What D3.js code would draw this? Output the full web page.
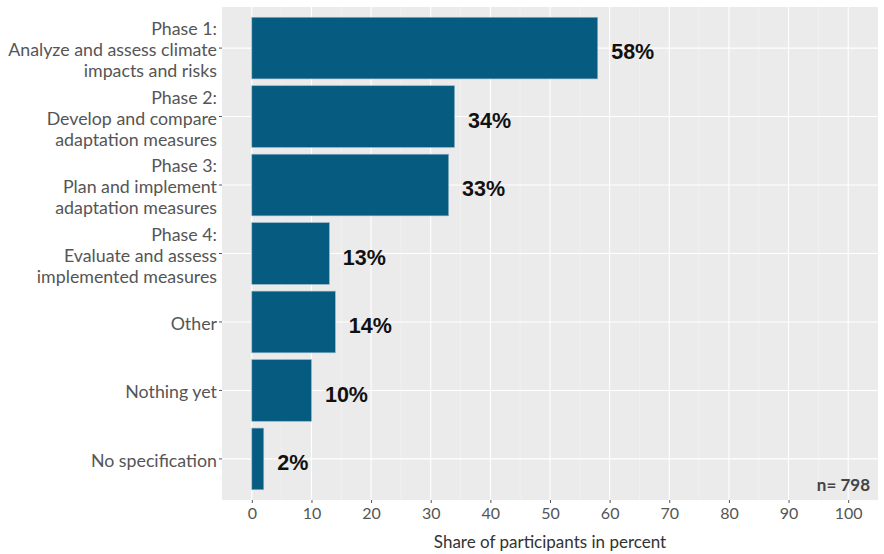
<!DOCTYPE html>
<html>
<head>
<meta charset="utf-8">
<script src="https://cdn.jsdelivr.net/npm/d3@7"></script>
<style>
  html, body { margin: 0; padding: 0; background: #fff; }
  svg { display: block; }
</style>
</head>
<body>
<svg id="chart" width="884" height="554"></svg>
<script>
const categories = [
  ["Phase 1:", "Analyze and assess climate", "impacts and risks"],
  ["Phase 2:", "Develop and compare", "adaptation measures"],
  ["Phase 3:", "Plan and implement", "adaptation measures"],
  ["Phase 4:", "Evaluate and assess", "implemented measures"],
  ["Other"],
  ["Nothing yet"],
  ["No specification"]
];
const values = [58, 34, 33, 13, 14, 10, 2];
const xTicks = [0, 10, 20, 30, 40, 50, 60, 70, 80, 90, 100];
const xMinor = [5, 15, 25, 35, 45, 55, 65, 75, 85, 95];
const xTitle = "Share of participants in percent";
const note = "n= 798";

const svg = d3.select("#chart");
const panel = { left: 222, right: 878, top: 7, bottom: 500 };
const axisFont = "Lato, 'Open Sans', sans-serif";

const x = d3.scaleLinear().domain([-5, 105]).range([panel.left, panel.right]);
// discrete axis with ggplot-style expansion (0.6 each side)
const idx = d3.range(categories.length);
const yPos = d3.scaleLinear().domain([-0.6, categories.length - 0.4]).range([panel.top, panel.bottom]);
const bandH = (yPos(1) - yPos(0)) * 0.9;

// panel background
svg.append("rect")
  .attr("x", panel.left).attr("y", panel.top)
  .attr("width", panel.right - panel.left).attr("height", panel.bottom - panel.top)
  .attr("fill", "#ebebeb");

// minor grid
svg.append("g").selectAll("line").data(xMinor).join("line")
  .attr("x1", d => x(d)).attr("x2", d => x(d))
  .attr("y1", panel.top).attr("y2", panel.bottom)
  .attr("stroke", "#f5f5f5").attr("stroke-width", 0.6);
// major grid
svg.append("g").selectAll("line").data(xTicks).join("line")
  .attr("x1", d => x(d)).attr("x2", d => x(d))
  .attr("y1", panel.top).attr("y2", panel.bottom)
  .attr("stroke", "#ffffff").attr("stroke-width", 1.1);
svg.append("g").selectAll("line").data(idx).join("line")
  .attr("x1", panel.left).attr("x2", panel.right)
  .attr("y1", d => yPos(d)).attr("y2", d => yPos(d))
  .attr("stroke", "#ffffff").attr("stroke-width", 1.1);

// bars
svg.append("g").selectAll("rect").data(values).join("rect")
  .attr("x", x(0))
  .attr("y", (d, i) => yPos(i) - bandH / 2)
  .attr("width", d => x(d) - x(0))
  .attr("height", bandH)
  .attr("fill", "#055b80")
  .attr("stroke", "#8fb3c6")
  .attr("stroke-width", 0.6);

// value labels
svg.append("g").selectAll("text").data(values).join("text")
  .attr("x", d => x(d) + 13.5)
  .attr("y", (d, i) => yPos(i))
  .attr("dy", "0.52em")
  .attr("font-family", "'Liberation Sans', Arial, sans-serif")
  .attr("font-weight", "bold")
  .attr("font-size", 21.5)
  .attr("fill", "#111")
  .text(d => d + "%");

// x axis
const xAxis = d3.axisBottom(x).tickValues(xTicks).tickSize(3).tickPadding(5);
const gx = svg.append("g").attr("transform", `translate(0,${panel.bottom})`).call(xAxis);
gx.select(".domain").remove();
gx.selectAll(".tick line").attr("stroke", "#555");
gx.selectAll(".tick text")
  .attr("font-family", axisFont).attr("font-size", 16).attr("fill", "#555");

// y axis (custom multi-line labels)
const gy = svg.append("g");
gy.selectAll("line").data(idx).join("line")
  .attr("x1", panel.left - 3).attr("x2", panel.left)
  .attr("y1", d => yPos(d)).attr("y2", d => yPos(d))
  .attr("stroke", "#555");
const lineH = 21;
gy.selectAll("text").data(categories).join("text")
  .attr("text-anchor", "end")
  .attr("font-family", axisFont).attr("font-size", 17.8).attr("fill", "#555")
  .each(function(lines, i) {
    const t = d3.select(this);
    const n = lines.length;
    lines.forEach((l, k) => {
      t.append("tspan")
        .attr("x", panel.left - 5)
        .attr("y", yPos(i) + (k - (n - 1) / 2) * lineH)
        .attr("dy", "0.45em")
        .text(l);
    });
  });

// axis title
svg.append("text")
  .attr("x", (panel.left + panel.right) / 2).attr("y", 548)
  .attr("text-anchor", "middle")
  .attr("font-family", axisFont).attr("font-size", 17).attr("fill", "#333")
  .text(xTitle);

// n annotation
svg.append("text")
  .attr("x", panel.right - 8).attr("y", panel.bottom - 15)
  .attr("dy", "0.35em")
  .attr("text-anchor", "end")
  .attr("font-family", axisFont).attr("font-weight", "bold").attr("font-size", 17).attr("fill", "#444")
  .text(note);
</script>
</body>
</html>
